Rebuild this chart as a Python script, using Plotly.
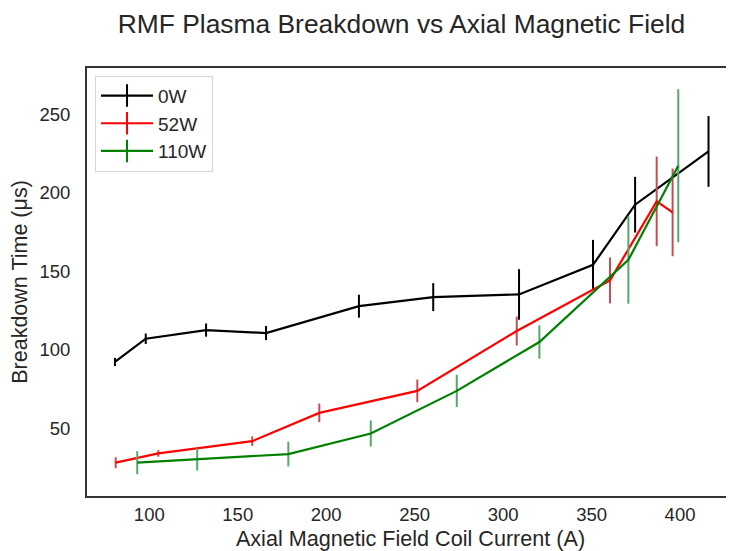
import plotly.graph_objects as go

# ---- data ----
x_0w = [80.6, 98.0, 132.1, 166.0, 218.5, 260.5, 309.0, 350.8, 374.6, 416.1]
y_0w = [92.3, 107.1, 112.6, 110.7, 127.8, 133.6, 135.3, 154.1, 192.4, 226.3]
e_0w = [2.6, 3.3, 4.2, 4.5, 7.3, 8.9, 16.1, 15.9, 17.7, 22.5]

x_52w = [81.0, 105.1, 158.2, 196.1, 251.5, 307.7, 360.4, 386.8, 395.8]
y_52w = [28.2, 34.1, 41.9, 59.9, 73.9, 112.0, 144.2, 194.5, 187.5]
e_52w = [3.5, 2.1, 3.0, 5.9, 7.2, 9.2, 14.6, 28.5, 27.9]

x_110w = [93.2, 127.1, 178.6, 225.2, 273.8, 320.5, 370.8, 399.0]
y_110w = [28.2, 30.3, 33.7, 46.8, 73.9, 105.0, 157.3, 217.2]
e_110w = [7.3, 7.1, 7.9, 8.3, 10.3, 10.6, 27.9, 48.7]

series = [
    ("0W", x_0w, y_0w, e_0w, "#000000", "#000000"),
    ("52W", x_52w, y_52w, e_52w, "#ff0000", "#c44e52"),
    ("110W", x_110w, y_110w, e_110w, "#008000", "#55a868"),
]

x_ticks = [100, 150, 200, 250, 300, 350, 400]
y_ticks = [50, 100, 150, 200, 250]

TXT = "#262626"
FONT = "Liberation Sans, Arial, sans-serif"

# the page body adds an 8px margin, so the figure is 8px smaller
W, H = 726, 543

fig = go.Figure()
for name, xs, ys, es, lc, ec in series:
    fig.add_trace(go.Scatter(
        x=xs, y=ys, mode="lines", name=name, showlegend=False,
        line=dict(color=lc, width=2.2),
        error_y=dict(type="data", array=es, visible=True, color=ec,
                     thickness=2, width=0),
    ))
# legend-only entries (line with vertical error-bar glyph)
for name, xs, ys, es, lc, ec in series:
    fig.add_trace(go.Scatter(
        x=[None], y=[None], mode="lines+markers", name=name, showlegend=True,
        line=dict(color=lc, width=2.2),
        marker=dict(symbol="line-ns-open", size=20,
                    line=dict(color=ec, width=2)),
    ))

fig.update_layout(
    width=W, height=H,
    margin=dict(l=79, r=0, t=59.5, b=55, autoexpand=False),
    paper_bgcolor="white", plot_bgcolor="white",
    font=dict(family=FONT, color=TXT),
    title=dict(text="RMF Plasma Breakdown vs Axial Magnetic Field",
               font=dict(size=26.4, color=TXT, family=FONT),
               x=393.5 / W, xref="container", xanchor="center",
               y=1 - 16 / H, yref="container", yanchor="middle"),
    legend=dict(x=0.0124, y=0.982, xanchor="left", yanchor="top",
                bgcolor="white", bordercolor="#d5d5d5", borderwidth=1,
                font=dict(size=19, color=TXT, family=FONT),
                itemwidth=52),
    showlegend=True,
)
fig.update_xaxes(
    range=[64.8, 430.5], tickvals=x_ticks, ticktext=[str(v) for v in x_ticks],
    showgrid=False, zeroline=False,
    showline=True, mirror=True, linecolor="#333333", linewidth=1.8,
    ticks="outside", ticklen=1, tickcolor="rgba(0,0,0,0)",
    tickfont=dict(size=18.5, color=TXT, family=FONT),
    title=dict(text="Axial Magnetic Field Coil Current (A)",
               font=dict(size=21.6, color=TXT, family=FONT), standoff=11),
)
fig.update_yaxes(
    range=[7.0, 279.4], tickvals=y_ticks, ticktext=[str(v) for v in y_ticks],
    showgrid=False, zeroline=False,
    showline=True, mirror=False, linecolor="#333333", linewidth=1.8,
    ticks="outside", ticklen=11, tickcolor="rgba(0,0,0,0)",
    tickfont=dict(size=18.5, color=TXT, family=FONT),
    title=dict(text="Breakdown Time (μs)",
               font=dict(size=21.5, color=TXT, family=FONT), standoff=6),
)

fig.write_html("out.html")
